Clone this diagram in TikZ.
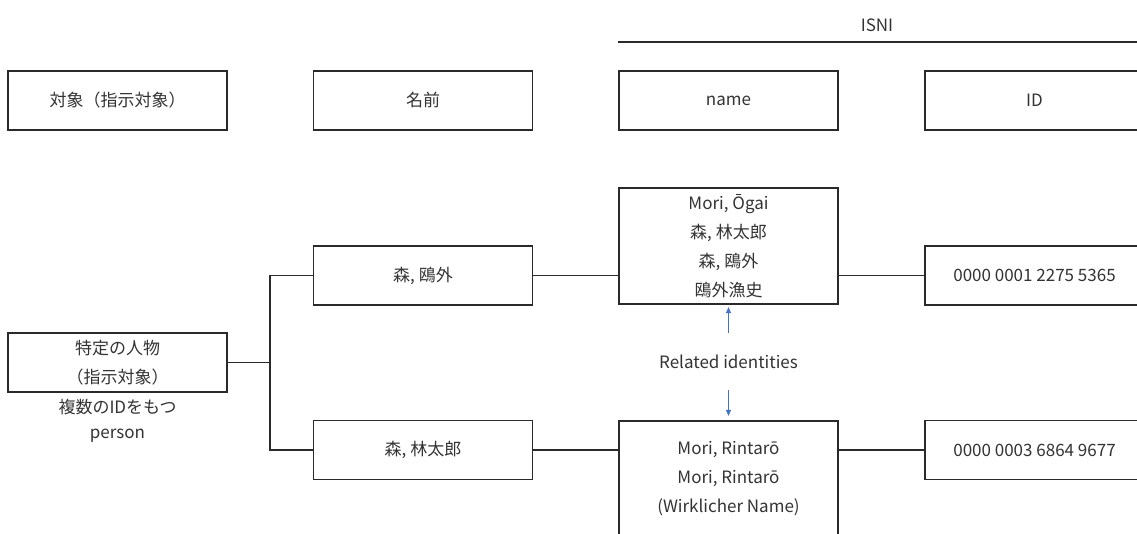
\documentclass[tikz,border=0pt]{standalone}
\usepackage{fontspec}
\setmainfont{Noto Sans CJK JP}
\usetikzlibrary{arrows.meta}
\definecolor{txt}{HTML}{333333}
\definecolor{ln}{HTML}{2A2A2A}
\definecolor{arr}{HTML}{4472C4}
\tikzset{
  box/.style={draw=ln, line width=1.2pt, minimum width=219pt, minimum height=59pt,
    inner sep=0pt, align=center, text=txt, font=\fontsize{17}{29}\selectfont},
  tallbox/.style={box, minimum height=116pt},
  lbl/.style={inner sep=0pt, align=center, text=txt, font=\fontsize{17}{29}\selectfont},
  conn/.style={draw=ln, line width=1.2pt},
  rel/.style={draw=arr, line width=1pt, -{Triangle[length=6pt,width=5pt]}}
}
\begin{document}
\begin{tikzpicture}[x=1pt,y=-1pt]
\useasboundingbox (0,0) rectangle (1137,533);
\clip (0,0) rectangle (1137,533);
\fill[white] (0,0) rectangle (1137,533);

% header
\node[lbl] (isni) at (877,25.5) {ISNI};
\coordinate (hl) at (618,42);
\coordinate (hr) at (1140,42);
\draw[conn] (hl) -- (hr);

% column headers
\node[box] (obj)   at (117.5,100.5) {対象（指示対象）};
\node[box] (namae) at (423,100.5)   {名前};
\node[box] (nm)    at (728.5,100.5) {name};
\node[box] (idh)   at (1034.5,100.5){ID};

% person
\node[box] (tok) at (117.5,362.5) {特定の人物\\（指示対象）};
\node[lbl] (multi) at (117.5,407) {複数のIDをもつ};
\node[lbl] (person) at (117.5,436) {person};

% names
\node[box] (ogai) at (423,275.5) {森, 鴎外};
\node[box] (rin)  at (423,450)   {森, 林太郎};

% ISNI names
\node[tallbox] (n1) at (728.5,246) {Mori, Ōgai\\森, 林太郎\\森, 鴎外\\鴎外漁史};
\node[tallbox] (n2) at (728.5,479) {Mori, Rintarō\\Mori, Rintarō\\(Wirklicher Name)};

% IDs
\node[box] (id1) at (1034.5,275.5) {0000 0001 2275 5365};
\node[box] (id2) at (1034.5,450)   {0000 0003 6864 9677};

% related identities
\node[lbl] (rel) at (728.5,362) {Related identities};
\coordinate (ra) at (728.5,333);
\coordinate (rb) at (728.5,390);
\draw[rel, shorten >=2.5pt] (ra) -- (n1.south);
\draw[rel, shorten >=4.5pt] (rb) -- (n2.north);

% connectors
\coordinate (j) at (270,362.5);
\draw[conn] (tok.east) -- (j);
\draw[conn] (ogai.west) -| (j) |- (rin.west);
\draw[conn] (ogai.east) -- (n1.west |- ogai.east);
\draw[conn] (n1.east |- id1.west) -- (id1.west);
\draw[conn] (rin.east) -- (n2.west |- rin.east);
\draw[conn] (n2.east |- id2.west) -- (id2.west);
\end{tikzpicture}
\end{document}
